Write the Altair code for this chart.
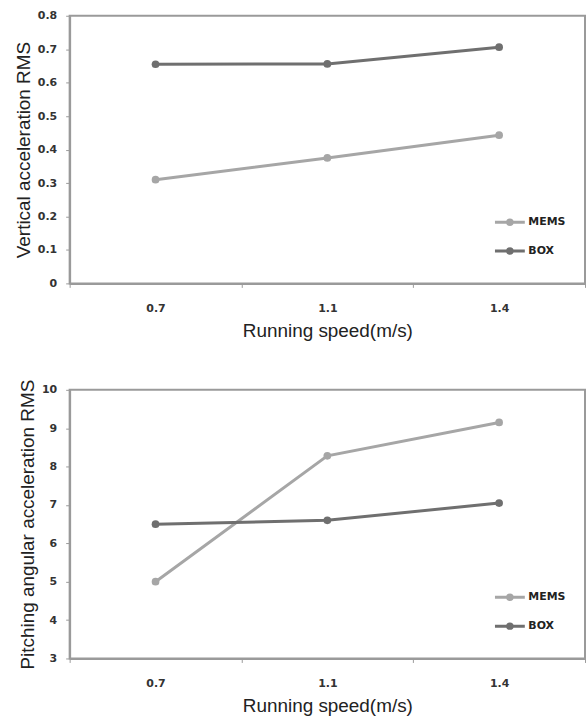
import altair as alt
import pandas as pd

speeds = ["0.7", "1.1", "1.4"]
series = ["MEMS", "BOX"]
vert_mems = [0.31, 0.375, 0.443]
vert_box = [0.655, 0.656, 0.706]
pitch_mems = [5.0, 8.28, 9.15]
pitch_box = [6.5, 6.6, 7.05]

colors = ["#a6a6a6", "#6f6f6f"]

def frame(mems, box):
    rows = []
    for s, v in zip(speeds, mems):
        rows.append({"speed": s, "series": "MEMS", "value": v})
    for s, v in zip(speeds, box):
        rows.append({"speed": s, "series": "BOX", "value": v})
    return pd.DataFrame(rows)

SYMBOL = "M-1,0L1,0M-0.15,0A0.15,0.15 0 1,1 0.15,0A0.15,0.15 0 1,1 -0.15,0Z"

def panel(df, ytitle, ydomain, ytick, yfmt, width, height, legend_y):
    x = alt.X("speed:N", sort=speeds, title="Running speed(m/s)",
              scale=alt.Scale(type="band", paddingInner=0, paddingOuter=0),
              axis=alt.Axis(labelAngle=0, tickBand="extent", labelPadding=15,
                            titlePadding=8, domainColor="#9a9a9a", tickColor="#9a9a9a",
                            domainWidth=2, tickSize=4))
    y = alt.Y("value:Q", title=ytitle,
              scale=alt.Scale(domain=ydomain, nice=False, zero=False),
              axis=alt.Axis(values=ytick, grid=False, domainColor="#9a9a9a",
                            tickColor="#9a9a9a", domainWidth=2, tickSize=4,
                            labelPadding=9, titlePadding=4, format=yfmt))
    base = alt.Chart(df).encode(x=x, y=y)
    line = base.mark_line(strokeWidth=3).encode(
        color=alt.Color("series:N", scale=alt.Scale(domain=series, range=colors),
                        legend=alt.Legend(title=None, orient="none", legendX=426,
                                          legendY=legend_y, symbolType=SYMBOL,
                                          symbolSize=900, symbolStrokeWidth=3,
                                          labelFont="DejaVu Sans",
                                          labelFontWeight="bold", labelFontSize=11,
                                          labelColor="#222", rowPadding=4,
                                          labelOffset=2)))
    pts = base.mark_circle(size=60, opacity=1).encode(
        color=alt.Color("series:N", scale=alt.Scale(domain=series, range=colors), legend=None))
    return alt.layer(line, pts).properties(width=width, height=height)

top = panel(frame(vert_mems, vert_box), "Vertical acceleration RMS", [0, 0.8],
            [0, 0.1, 0.2, 0.3, 0.4, 0.5, 0.6, 0.7, 0.8], ".1~f", 518, 269, 191)
bottom = panel(frame(pitch_mems, pitch_box), "Pitching angular acceleration RMS", [3, 10],
               [3, 4, 5, 6, 7, 8, 9, 10], "d", 518, 270, 192)

chart = alt.vconcat(top, bottom, spacing=37).resolve_scale(
    color="independent"
).resolve_legend(
    color="independent"
).configure_view(
    stroke="#9a9a9a", strokeWidth=2
).configure_axis(
    labelFont="DejaVu Sans", labelFontWeight="bold", labelFontSize=11,
    labelColor="#333", titleFont="Liberation Sans", titleFontSize=19,
    titleFontWeight="normal", titleColor="#222"
).properties(padding={"left": 13, "top": 7, "right": 0, "bottom": 0},
             background="white")

chart.save("out.html", embed_options={"renderer": "svg", "actions": False})
